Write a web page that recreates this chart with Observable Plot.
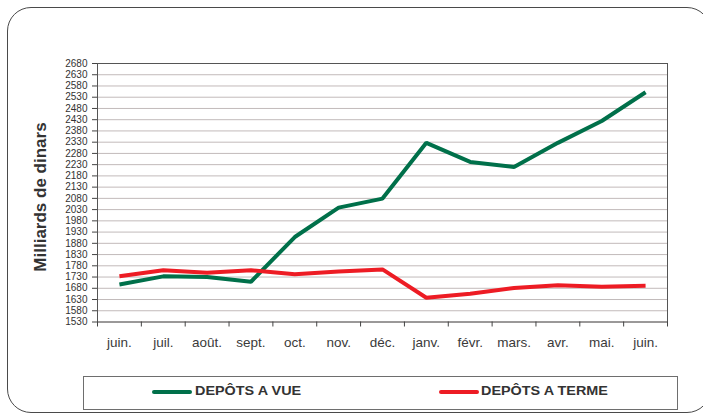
<!DOCTYPE html>
<html>
<head>
<meta charset="utf-8">
<script src="https://cdn.jsdelivr.net/npm/d3@7"></script>
<script src="https://cdn.jsdelivr.net/npm/@observablehq/plot@0.6"></script>
<style>
  body { margin: 0; background: #fff; }
  #wrap { position: relative; width: 703px; height: 416px; overflow: hidden; background: #fff; font-family: "Liberation Sans", Arial, sans-serif; }
  #chart { position: absolute; left: 0; top: 0; }
  #frame { position: absolute; left: 7px; top: 7px; width: 704px; height: 406px; border: 1.5px solid #4a4a4a; border-radius: 24px; box-sizing: border-box; }
  #ylabel { position: absolute; left: -59px; top: 187px; width: 200px; height: 20px; line-height: 20px; text-align: center; font-weight: bold; font-size: 17px; color: #333; transform: rotate(-90deg); white-space: nowrap; }
  #legend { position: absolute; left: 83px; top: 376px; width: 595px; height: 34px; border: 1px solid #6e6e6e; box-sizing: border-box; }
  .sw { position: absolute; height: 4px; width: 40px; border-radius: 2px; top: 12.5px; }
  .lt { position: absolute; top: 6px; font-weight: bold; font-size: 12px; line-height: 16px; color: #333; transform: scaleX(1.2); transform-origin: left center; white-space: nowrap; }
</style>
</head>
<body>
<div id="wrap">
  <div id="chart"></div>
  <div id="ylabel">Milliards de dinars</div>
  <div id="legend"></div>
  <div id="frame"></div>
</div>
<script>
const months = ["juin.", "juil.", "août.", "sept.", "oct.", "nov.", "déc.", "janv.", "févr.", "mars.", "avr.", "mai.", "juin."];
const depotsVue = [1697, 1733, 1730, 1709, 1908, 2039, 2079, 2327, 2242, 2220, 2327, 2424, 2552];
const depotsTerme = [1734, 1760, 1749, 1760, 1742, 1755, 1764, 1638, 1656, 1681, 1693, 1687, 1691];
const yTicks = [1530, 1580, 1630, 1680, 1730, 1780, 1830, 1880, 1930, 1980, 2030, 2080, 2130, 2180, 2230, 2280, 2330, 2380, 2430, 2480, 2530, 2580, 2630, 2680];
const seriesNames = ["DEPÔTS A VUE", "DEPÔTS A TERME"];
const seriesColors = ["#00704a", "#ed1c24"];

const idx = months.map((_, i) => i);
const boundaries = months.map((_, i) => i - 0.5).concat([months.length - 0.5]);
const rows = [];
[depotsVue, depotsTerme].forEach((vals, s) => vals.forEach((v, i) => rows.push({i, v, s: seriesNames[s]})));

const chart = Plot.plot({
  width: 703,
  height: 416,
  marginLeft: 97,
  marginRight: 36,
  marginTop: 63,
  marginBottom: 94.5,
  style: {background: "none", fontFamily: "'Liberation Sans', Arial, sans-serif", color: "#333", overflow: "visible"},
  x: {type: "linear", domain: [-0.5, months.length - 0.5]},
  y: {domain: [1530, 2680]},
  color: {domain: seriesNames, range: seriesColors},
  marks: [
    Plot.ruleY(yTicks, {stroke: "#c2baba", strokeWidth: 1}),
    Plot.frame({stroke: "#555", strokeWidth: 1}),
    Plot.axisY(yTicks, {tickSize: 5, tickPadding: 5, fontSize: 10, label: null, tickFormat: d => String(d), stroke: "#444", strokeWidth: 1, fill: "#333"}),
    Plot.axisX(idx, {tickSize: 0, tickPadding: 15, fontSize: 13.5, label: null, tickFormat: i => months[i], fill: "#3a3a3a"}),
    Plot.axisX(boundaries, {tickSize: 5, tickFormat: () => "", label: null, stroke: "#444", strokeWidth: 1}),
    Plot.line(rows, {x: "i", y: "v", z: "s", stroke: "s", strokeWidth: 4, strokeLinejoin: "miter", strokeLinecap: "butt"})
  ]
});
document.getElementById("chart").appendChild(chart);

const legend = document.getElementById("legend");
const items = [{sw: 68, tx: 111}, {sw: 355, tx: 397}];
seriesNames.forEach((name, k) => {
  const sw = document.createElement("div");
  sw.className = "sw";
  sw.style.left = items[k].sw + "px";
  sw.style.background = seriesColors[k];
  legend.appendChild(sw);
  const t = document.createElement("div");
  t.className = "lt";
  t.style.left = items[k].tx + "px";
  t.textContent = name;
  legend.appendChild(t);
});
</script>
</body>
</html>
